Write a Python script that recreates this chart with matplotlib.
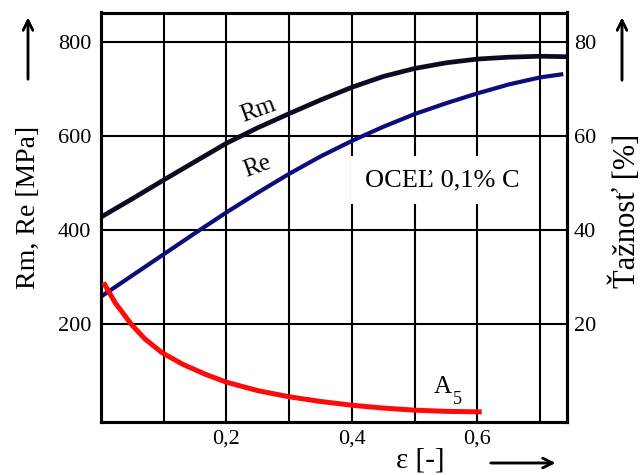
import matplotlib
matplotlib.use("Agg")
import matplotlib.pyplot as plt

plt.rcParams['font.family'] = ['Liberation Serif', 'DejaVu Serif']

# ---- data ----
eps_rm = [0.0, 0.05, 0.1, 0.15, 0.2, 0.25, 0.3, 0.35, 0.4, 0.45, 0.5, 0.55, 0.6, 0.65, 0.7, 0.743]
rm = [428, 467, 507, 546, 585, 618, 648, 677, 704, 727, 744, 756, 764, 768, 770, 769]

eps_re = [0.0, 0.05, 0.1, 0.15, 0.2, 0.25, 0.3, 0.35, 0.4, 0.45, 0.5, 0.55, 0.6, 0.65, 0.7, 0.737]
re = [259, 304, 349, 394, 438, 480, 520, 557, 590, 620, 647, 670, 691, 710, 725, 732]

eps_a5 = [0.004, 0.023, 0.049, 0.07, 0.097, 0.129, 0.166, 0.2, 0.25, 0.3, 0.35, 0.4,
          0.45, 0.5, 0.55, 0.6, 0.607]
a5 = [28.9, 24.5, 19.9, 16.9, 14.0, 11.6, 9.4, 7.7, 5.9, 4.6, 3.6, 2.8,
      2.2, 1.75, 1.5, 1.4, 1.4]

x_grid = [0.1, 0.2, 0.3, 0.4, 0.5, 0.6, 0.7]
x_labels = ['', '0,2', '', '0,4', '', '0,6', '']
y_left = [200, 400, 600, 800]
y_right = [20, 40, 60, 80]

W, H = 643, 475
fig = plt.figure(figsize=(W / 100, H / 100), dpi=100)
ax = fig.add_axes([101 / W, 1 - 421.7 / H, (567 - 101) / W, (421.7 - 12.5) / H])
ax2 = ax.twinx()

ax.set_xlim(0, 0.743)
ax.set_ylim(-7, 863)
ax2.set_ylim(-0.7, 86.3)

ax.set_xticks(x_grid)
ax.set_xticklabels(x_labels)
ax.set_yticks(y_left)
ax.set_yticklabels([str(v) for v in y_left])
ax2.set_yticks(y_right)
ax2.set_yticklabels([str(v) for v in y_right])

ax.grid(True, color='black', linewidth=1.5)
ax.set_axisbelow(True)
for a in (ax, ax2):
    a.tick_params(length=0, labelsize=16)
    for s in a.spines.values():
        s.set_linewidth(2.2)
        s.set_color('black')
ax.tick_params(axis='y', pad=7)
ax.tick_params(axis='x', pad=6)
ax2.tick_params(axis='y', pad=5)

lk = dict(solid_capstyle='butt', solid_joinstyle='round', zorder=3)
ax.plot(eps_rm, rm, color='#0b0b22', linewidth=3.4, **lk)
ax.plot(eps_re, re, color='#0c0c7c', linewidth=3.0, **lk)
ax2.plot(eps_a5, a5, color='#ff0a0a', linewidth=3.6, **lk)


def fig_px(x, y):
    return (x / W, 1 - y / H)


wb = dict(boxstyle='square,pad=0.15', facecolor='white', edgecolor='none')
ax.text(*fig_px(258, 110), 'Rm', fontsize=18, rotation=20, ha='center', va='center',
        bbox=wb, transform=fig.transFigure, zorder=2.5)
ax.text(*fig_px(257, 167), 'Re', fontsize=18, rotation=20, ha='center', va='center',
        bbox=wb, transform=fig.transFigure, zorder=2.5)
ax.text(*fig_px(442, 180), 'OCEĽ 0,1% C', fontsize=19, ha='center', va='center',
        bbox=dict(boxstyle='square,pad=0.5', facecolor='white', edgecolor='none'),
        transform=fig.transFigure, zorder=2.5)
fig.text(*fig_px(443, 387), 'A', fontsize=18, ha='center', va='center')
fig.text(*fig_px(457.5, 399), '5', fontsize=13, ha='center', va='center')

# axis titles
fig.text(*fig_px(28, 207), 'Rm, Re [MPa]', fontsize=20, rotation=90, ha='center', va='center')
fig.text(*fig_px(626, 211), 'Ťažnosť [%]', fontsize=22, rotation=90, ha='center', va='center')
fig.text(*fig_px(420, 461), 'ε [-]', fontsize=21, ha='center', va='center')

# arrows
ap = dict(arrowstyle='->,head_length=0.7,head_width=0.35', color='black', linewidth=1.8)
fig.add_artist(plt.annotate('', xy=(28, H - 15), xytext=(28, H - 82), xycoords='figure pixels',
                            textcoords='figure pixels', arrowprops=ap))
fig.add_artist(plt.annotate('', xy=(622, H - 15), xytext=(622, H - 83), xycoords='figure pixels',
                            textcoords='figure pixels', arrowprops=ap))
fig.add_artist(plt.annotate('', xy=(558, H - 463), xytext=(488, H - 463), xycoords='figure pixels',
                            textcoords='figure pixels', arrowprops=ap))

fig.savefig('out.png', dpi=100)
